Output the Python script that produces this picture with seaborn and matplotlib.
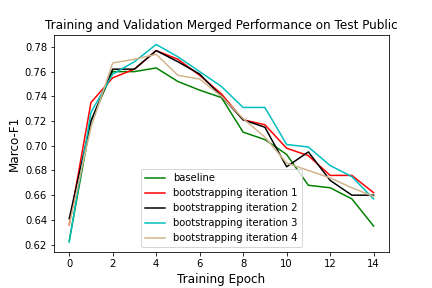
import numpy as np
import pandas as pd
import seaborn as sns
import matplotlib
matplotlib.use("Agg")
import matplotlib.pyplot as plt

epochs = list(range(15))
baseline = [0.623, 0.720, 0.760, 0.760, 0.763, 0.752, 0.745, 0.739, 0.711, 0.705, 0.693, 0.668, 0.666, 0.657, 0.635]
iter1 = [0.636, 0.735, 0.755, 0.762, 0.777, 0.770, 0.757, 0.742, 0.721, 0.717, 0.698, 0.692, 0.676, 0.676, 0.662]
iter2 = [0.641, 0.720, 0.762, 0.762, 0.777, 0.768, 0.758, 0.740, 0.721, 0.715, 0.683, 0.695, 0.672, 0.660, 0.660]
iter3 = [0.622, 0.727, 0.758, 0.768, 0.782, 0.772, 0.760, 0.748, 0.731, 0.731, 0.701, 0.699, 0.684, 0.675, 0.657]
iter4 = [0.636, 0.715, 0.767, 0.770, 0.774, 0.757, 0.754, 0.740, 0.722, 0.707, 0.686, 0.680, 0.674, 0.666, 0.659]

series = {
    "baseline": baseline,
    "bootstrapping iteration 1": iter1,
    "bootstrapping iteration 2": iter2,
    "bootstrapping iteration 3": iter3,
    "bootstrapping iteration 4": iter4,
}
colors = ["green", "red", "black", "c", "tan"]

df = pd.concat(
    [pd.DataFrame({"epoch": epochs, "f1": v, "run": k}) for k, v in series.items()]
)

fig, ax = plt.subplots(figsize=(6, 4), dpi=72)
fig.subplots_adjust(left=0.125, right=0.9, bottom=0.125, top=0.88)
sns.lineplot(data=df, x="epoch", y="f1", hue="run", palette=colors, ax=ax)
ax.set_title("Training and Validation Merged Performance on Test Public")
ax.set_xlabel("Training Epoch", fontsize=12)
ax.set_ylabel("Marco-F1", fontsize=12)
ax.legend(loc="lower center", title=None)
fig.savefig("out.png", dpi=72)
